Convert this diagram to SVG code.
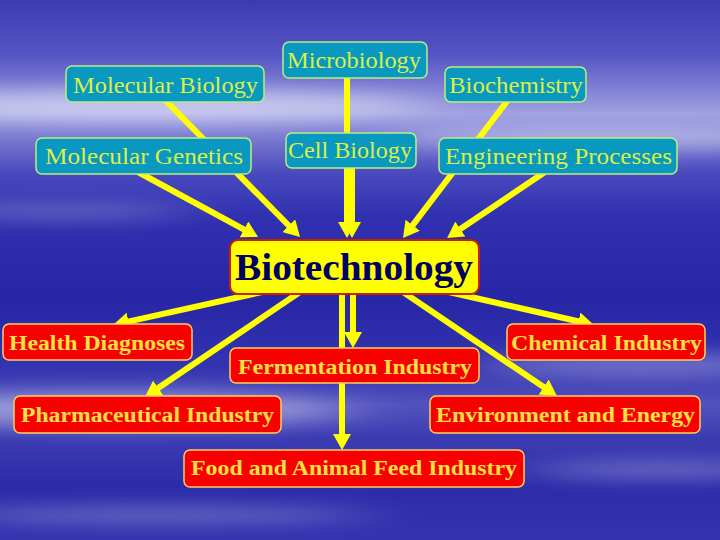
<svg xmlns="http://www.w3.org/2000/svg" width="720" height="540" viewBox="0 0 720 540">
<defs>
<linearGradient id="bg" x1="0" y1="0" x2="0" y2="1">
<stop offset="0" stop-color="#3c3cb2"/>
<stop offset="0.10" stop-color="#5454c4"/>
<stop offset="0.17" stop-color="#8484d6"/>
<stop offset="0.21" stop-color="#a0a0e2"/>
<stop offset="0.26" stop-color="#7676d0"/>
<stop offset="0.32" stop-color="#4a4abe"/>
<stop offset="0.40" stop-color="#3030b0"/>
<stop offset="0.55" stop-color="#2626a6"/>
<stop offset="0.68" stop-color="#3434b0"/>
<stop offset="0.75" stop-color="#5252be"/>
<stop offset="0.81" stop-color="#3c3cb2"/>
<stop offset="0.90" stop-color="#2c2caa"/>
<stop offset="1" stop-color="#3434b0"/>
</linearGradient>
<filter id="blur" x="-50%" y="-300%" width="200%" height="700%">
<feGaussianBlur stdDeviation="35 9"/>
</filter>
<marker id="ah" viewBox="0 0 16 18" refX="4" refY="9" markerWidth="16" markerHeight="18" markerUnits="userSpaceOnUse" orient="auto">
<path d="M0,0 L16,9 L0,18 z" fill="#ffff00"/>
</marker>
<style>
.bgs{fill:#ffffff;filter:url(#blur)}
.c line{stroke:#ffff00;stroke-width:6;marker-end:url(#ah)}
.top rect{fill:#0898c0;stroke:#b8f080;stroke-width:1.5}
.top text{font-family:"Liberation Serif","Times New Roman",serif;font-size:23px;fill:#dcf046}
.bot rect{fill:#f80000;stroke:#ffd060;stroke-width:1.5}
.bot text{font-family:"Liberation Serif","Times New Roman",serif;font-size:20px;font-weight:bold;fill:#ffe040}
.bio rect{fill:#ffff00;stroke:#c82000;stroke-width:2}
.bio text{font-family:"Liberation Serif","Times New Roman",serif;font-size:37px;font-weight:bold;fill:#000060}
</style>
</defs>
<rect x="0" y="0" width="720" height="540" fill="url(#bg)"/>
<g id="background-streaks">
<ellipse class="bgs" cx="150" cy="105" rx="280" ry="16" opacity="0.45"/>
<ellipse class="bgs" cx="610" cy="138" rx="220" ry="12" opacity="0.4"/>
<ellipse class="bgs" cx="60" cy="212" rx="130" ry="8" opacity="0.25"/>
<ellipse class="bgs" cx="640" cy="365" rx="160" ry="12" opacity="0.3"/>
<ellipse class="bgs" cx="110" cy="410" rx="240" ry="18" opacity="0.4"/>
<ellipse class="bgs" cx="660" cy="470" rx="130" ry="10" opacity="0.25"/>
<ellipse class="bgs" cx="160" cy="515" rx="210" ry="9" opacity="0.25"/>
</g>
<g id="connectors" class="c">
<line x1="165" y1="100" x2="291.6" y2="228.5"/>
<line x1="138" y1="172" x2="247.5" y2="231.3"/>
<line x1="347" y1="76" x2="347" y2="226"/>
<line x1="352" y1="166" x2="352" y2="226"/>
<line x1="508" y1="100" x2="410.3" y2="228.4"/>
<line x1="545" y1="172" x2="457" y2="231.3"/>
<line x1="262" y1="292" x2="124.7" y2="322.4"/>
<line x1="300" y1="292" x2="154.9" y2="390.3"/>
<line x1="353" y1="292" x2="353" y2="336"/>
<line x1="342" y1="292" x2="342" y2="438"/>
<line x1="440" y1="290" x2="582.3" y2="322.3"/>
<line x1="403" y1="292" x2="547" y2="389.3"/>
</g>
<g id="molecular-biology" class="top"><rect x="66" y="66" width="198" height="36" rx="6"/><text x="73" y="93" textLength="185" lengthAdjust="spacingAndGlyphs">Molecular Biology</text></g>
<g id="microbiology" class="top"><rect x="283" y="42" width="144" height="36" rx="6"/><text x="287" y="68" textLength="134" lengthAdjust="spacingAndGlyphs">Microbiology</text></g>
<g id="biochemistry" class="top"><rect x="445" y="67" width="141" height="35" rx="6"/><text x="449" y="93" textLength="134" lengthAdjust="spacingAndGlyphs">Biochemistry</text></g>
<g id="molecular-genetics" class="top"><rect x="36" y="138" width="215" height="36" rx="6"/><text x="45" y="164" textLength="198" lengthAdjust="spacingAndGlyphs">Molecular Genetics</text></g>
<g id="cell-biology" class="top"><rect x="286" y="133" width="130" height="35" rx="6"/><text x="288" y="158" textLength="124" lengthAdjust="spacingAndGlyphs">Cell Biology</text></g>
<g id="engineering-processes" class="top"><rect x="439" y="138" width="238" height="36" rx="6"/><text x="445" y="164" textLength="227" lengthAdjust="spacingAndGlyphs">Engineering Processes</text></g>
<g id="biotechnology" class="bio"><rect x="230" y="240" width="249" height="54" rx="8"/><text x="235" y="280" textLength="238" lengthAdjust="spacingAndGlyphs">Biotechnology</text></g>
<g id="health-diagnoses" class="bot"><rect x="3" y="324" width="189" height="36" rx="6"/><text x="9" y="350" textLength="176" lengthAdjust="spacingAndGlyphs">Health Diagnoses</text></g>
<g id="fermentation-industry" class="bot"><rect x="230" y="348" width="249" height="35" rx="6"/><text x="238" y="374" textLength="234" lengthAdjust="spacingAndGlyphs">Fermentation Industry</text></g>
<g id="chemical-industry" class="bot"><rect x="507" y="324" width="198" height="36" rx="6"/><text x="511" y="350" textLength="191" lengthAdjust="spacingAndGlyphs">Chemical Industry</text></g>
<g id="pharmaceutical-industry" class="bot"><rect x="14" y="396" width="267" height="37" rx="6"/><text x="21" y="422" textLength="253" lengthAdjust="spacingAndGlyphs">Pharmaceutical Industry</text></g>
<g id="environment-and-energy" class="bot"><rect x="430" y="396" width="270" height="37" rx="6"/><text x="436" y="422" textLength="259" lengthAdjust="spacingAndGlyphs">Environment and Energy</text></g>
<g id="food-and-animal-feed-industry" class="bot"><rect x="184" y="450" width="340" height="37" rx="6"/><text x="191" y="475" textLength="326" lengthAdjust="spacingAndGlyphs">Food and Animal Feed Industry</text></g>
</svg>
